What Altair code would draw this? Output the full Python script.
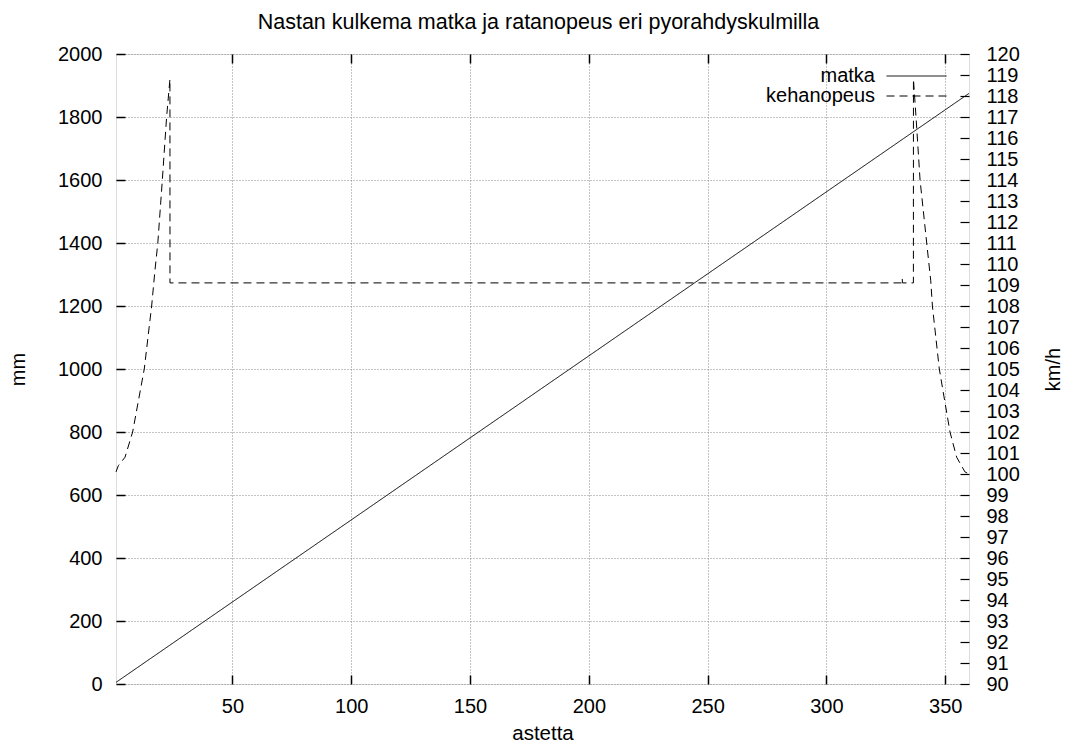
import altair as alt
import pandas as pd

chart_title = "Nastan kulkema matka ja ratanopeus eri pyorahdyskulmilla"
x_title = "astetta"
y_left_title = "mm"
y_right_title = "km/h"
series_names = ["matka", "kehanopeus"]

matka_astetta = [1.0, 360.0]
matka_mm = [5.2, 1875.0]

keha_astetta = [1.0, 2.0, 4.8, 8.0, 12.9, 16.0, 17.4, 18.6, 20.5, 22.3, 23.7, 23.72,
                331.8, 331.9, 332.0, 336.6, 336.62, 337.7, 339.4, 342.2, 343.9, 344.6,
                347.5, 352.0, 354.8, 358.3, 360.0]
keha_kmh = [100.1, 100.4, 100.8, 102.0, 105.0, 108.0, 109.7, 111.0, 114.0, 117.0, 118.8, 109.1,
            109.1, 109.3, 109.1, 109.1, 118.8, 117.0, 114.0, 111.0, 109.2, 108.0,
            105.0, 102.0, 100.8, 100.1, 100.0]

x_tick_values = [50, 100, 150, 200, 250, 300, 350]
mm_tick_values = [0, 200, 400, 600, 800, 1000, 1200, 1400, 1600, 1800, 2000]
kmh_tick_values = [90, 91, 92, 93, 94, 95, 96, 97, 98, 99, 100, 101, 102, 103, 104, 105,
                   106, 107, 108, 109, 110, 111, 112, 113, 114, 115, 116, 117, 118, 119, 120]

df_m = pd.DataFrame({"astetta": matka_astetta, "mm": matka_mm, "sarja": series_names[0]})
df_k = pd.DataFrame({"astetta": keha_astetta, "kmh": keha_kmh, "sarja": series_names[1]})

FONT = "Liberation Sans"
FS = 20
W, H = 853, 630
TICK = 9

common = dict(
    domain=False, tickColor="black", tickSize=TICK, offset=-TICK,
    labelFont=FONT, labelFontSize=FS, labelColor="black",
    labelFlush=False, labelOverlap=False, format="d",
    titleFont=FONT, titleColor="black", titleFontWeight="normal",
)
grid_style = dict(grid=True, gridColor="#888888", gridDash=[1, 2], gridWidth=1)

bottom_axis = alt.Axis(orient="bottom", values=x_tick_values, title=x_title,
                       labelPadding=12, titlePadding=7, tickWidth=1.5, titleFontSize=20.5,
                       **grid_style, **common)
top_axis = alt.Axis(orient="top", values=x_tick_values, title=chart_title, labels=False,
                    titlePadding=20, titleFontSize=21.5, titleX=422, titleAlign="center",
                    grid=False, tickWidth=1.5, **common)
left_axis = alt.Axis(orient="left", values=mm_tick_values, title=y_left_title,
                     labelPadding=14, titlePadding=29, tickWidth=1.5, titleFontSize=20,
                     **grid_style, **common)
right_axis = alt.Axis(orient="right", values=kmh_tick_values, title=y_right_title,
                      labelPadding=17, titlePadding=24, tickWidth=1.2, grid=False,
                      titleFontSize=20, titleAngle=270, titleBaseline="top", **common)

xscale = alt.Scale(domain=[1, 360], nice=False, zero=False)

legend = alt.Legend(
    title=None, orient="none", legendX=739, legendY=12, direction="vertical",
    symbolType="M2.69,0H10.19", symbolSize=256, symbolStrokeWidth=1,
    symbolStrokeColor="black", symbolFillColor="transparent",
    labelAlign="right", labelOffset=0, labelFont=FONT, labelFontSize=FS,
    labelColor="black", labelLimit=400, padding=0, rowPadding=-2,
)
dash = alt.StrokeDash("sarja:N",
                      scale=alt.Scale(domain=series_names, range=[[1, 0], [8, 5]]),
                      legend=legend)

matka = alt.Chart(df_m).mark_line(color="black", strokeWidth=1).encode(
    x=alt.X("astetta:Q", scale=xscale, axis=bottom_axis),
    y=alt.Y("mm:Q", scale=alt.Scale(domain=[0, 2000], nice=False), axis=left_axis),
    strokeDash=dash,
)
keha = alt.Chart(df_k).mark_line(color="black", strokeWidth=1).encode(
    x=alt.X("astetta:Q", scale=xscale, axis=top_axis),
    y=alt.Y("kmh:Q", scale=alt.Scale(domain=[90, 120], nice=False, zero=False), axis=right_axis),
    strokeDash=dash,
)

chart = (
    alt.layer(matka, keha)
    .resolve_scale(y="independent")
    .resolve_axis(x="independent", y="independent")
    .properties(
        width=W, height=H,
        padding={"left": 108, "top": 46, "right": 98, "bottom": 59},
        autosize=alt.AutoSizeParams(type="none"),
    )
    .configure_view(stroke="black", strokeWidth=2)
    .configure(font=FONT)
)

chart.save("out.html", embed_options={"renderer": "svg", "actions": False})
